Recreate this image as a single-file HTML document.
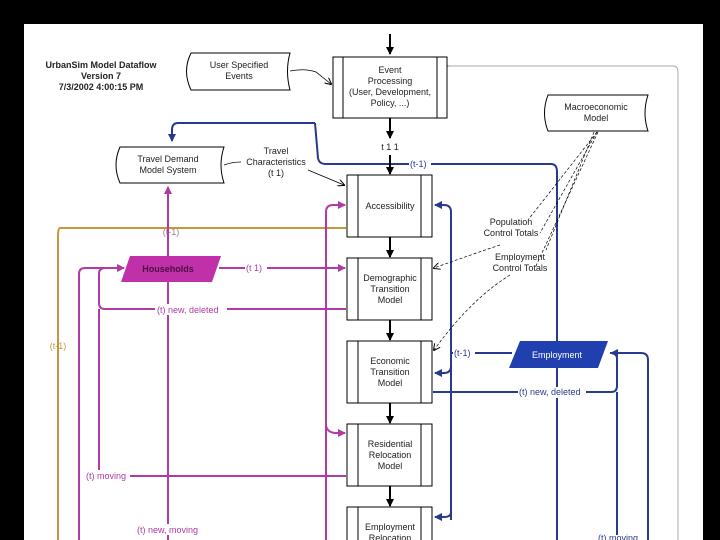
<!DOCTYPE html>
<html><head><meta charset="utf-8"><style>
html,body{margin:0;padding:0;background:#000;}
svg{display:block;}
text{font-family:"Liberation Sans",sans-serif;font-size:9px;}
</style></head><body>
<svg width="720" height="540" viewBox="0 0 720 540" xmlns="http://www.w3.org/2000/svg">
<defs>
<marker id="ak" markerWidth="8" markerHeight="8" refX="7" refY="4" orient="auto" markerUnits="userSpaceOnUse"><path d="M0,0L8,4L0,8z" fill="#000"/></marker>
<marker id="ap" markerWidth="8" markerHeight="8" refX="7" refY="4" orient="auto" markerUnits="userSpaceOnUse"><path d="M0,0L8,4L0,8z" fill="#b03aa6"/></marker>
<marker id="ab" markerWidth="8" markerHeight="8" refX="7" refY="4" orient="auto" markerUnits="userSpaceOnUse"><path d="M0,0L8,4L0,8z" fill="#283a8c"/></marker>
<marker id="ag" markerWidth="8" markerHeight="8" refX="7" refY="4" orient="auto" markerUnits="userSpaceOnUse"><path d="M0,1L8,4L0,7z" fill="#999"/></marker>
<marker id="ad" markerWidth="7" markerHeight="7" refX="6" refY="3.5" orient="auto" markerUnits="userSpaceOnUse"><path d="M0,0L7,3.5L0,7" fill="none" stroke="#000"/></marker>
</defs>
<rect x="24" y="24" width="679" height="516" fill="#fff"/>

<!-- title -->
<g font-weight="bold" text-anchor="middle" fill="#222">
<text x="101" y="68">UrbanSim Model Dataflow</text>
<text x="101" y="79">Version 7</text>
<text x="101" y="90">7/3/2002 4:00:15 PM</text>
</g>

<!-- gray loop -->
<path d="M449,66 L673,66 Q678,66 678,72 L678,540" fill="none" stroke="#aaa" stroke-width="1" marker-start="url(#ag)"/>

<!-- orange -->
<path d="M346,228 L60,228 Q58,228 58,236 L58,540" fill="none" stroke="#c8963c" stroke-width="2"/>
<text x="171" y="235" text-anchor="middle" fill="#a07a90" font-size="9">(t-1)</text>
<text x="58" y="349" text-anchor="middle" fill="#c8963c" font-size="9">(t-1)</text>

<!-- purple -->
<g fill="none" stroke="#b03aa6" stroke-width="2">
<path d="M168,540 L168,187" marker-end="url(#ap)"/>
<path d="M219,268 L345,268" marker-end="url(#ap)"/>
<path d="M346,309 L105,309 Q99,309 99,303 L99,274 Q99,268 105,268 L124,268" marker-end="url(#ap)"/>
<path d="M99,309 L99,470 Q99,476 105,476 L346,476"/>
<path d="M79,540 L79,274 Q79,268 85,268 L120,268"/>
<path d="M326,540 L326,212 Q326,205 333,205 L345,205" marker-end="url(#ap)"/>
<path d="M326,426 Q328,433 336,433 L345,433" marker-end="url(#ap)"/>
</g>
<polygon points="130,256 221,256 212,282 121,282" fill="#c030a8"/>
<text x="168" y="272" text-anchor="middle" font-weight="bold" fill="#4a1040">Households</text>
<g fill="#b03aa6" font-size="9">
<rect x="245" y="262" width="22" height="11" fill="#fff"/><text x="246" y="271">(t 1)</text>
<rect x="155" y="304" width="72" height="11" fill="#fff"/><text x="157" y="313">(t) new, deleted</text>
<rect x="85" y="470" width="45" height="11" fill="#fff"/><text x="86" y="479">(t) moving</text>
<rect x="136" y="524" width="68" height="11" fill="#fff"/><text x="137" y="533">(t) new, moving</text>
</g>

<!-- blue -->
<g fill="none" stroke="#283a8c" stroke-width="2">
<path d="M315,123 L178,123 Q172,123 172,130 L172,141" marker-end="url(#ab)"/>
<path d="M315,123 L318,158 Q319,164 326,164 L551,164 Q557,164 557,172 L557,540"/>
<path d="M451,520 L451,212 Q451,205 444,205 L435,205" marker-end="url(#ab)"/>
<path d="M451,366 Q451,373 444,373 L435,373" marker-end="url(#ab)"/>
<path d="M451,512 Q451,517 444,517 L435,517" marker-end="url(#ab)"/>
<path d="M451,353 L512,353"/>
<path d="M433,392 L611,392 Q617,392 617,386 L617,359 Q617,353 611,353 L610,353" />
<path d="M617,392 L617,535"/>
<path d="M648,540 L648,360 Q648,353 641,353 L611,353" marker-end="url(#ab)"/>
</g>
<polygon points="520,341 608,341 598,368 509,368" fill="#2040b0"/>
<text x="557" y="358" text-anchor="middle" fill="#fff" font-size="9">Employment</text>
<g fill="#283a8c" font-size="9">
<rect x="409" y="159" width="22" height="11" fill="#fff"/><text x="410" y="167">(t-1)</text>
<rect x="453" y="348" width="22" height="11" fill="#fff"/><text x="454" y="356">(t-1)</text>
<rect x="518" y="387" width="68" height="11" fill="#fff"/><text x="519" y="395">(t) new, deleted</text>
<text x="598" y="541">(t) moving</text>
</g>

<!-- black main arrows -->
<g stroke="#000" stroke-width="2" fill="none">
<path d="M390,34 L390,54" marker-end="url(#ak)"/>
<path d="M390,118 L390,138" marker-end="url(#ak)"/>
<path d="M390,155 L390,174" marker-end="url(#ak)"/>
<path d="M390,237 L390,257" marker-end="url(#ak)"/>
<path d="M390,320 L390,340" marker-end="url(#ak)"/>
<path d="M390,403 L390,423" marker-end="url(#ak)"/>
<path d="M390,486 L390,506" marker-end="url(#ak)"/>
</g>
<text x="390" y="150" text-anchor="middle" fill="#222">t 1   1</text>

<!-- boxes -->
<g fill="#fff" stroke="#000" stroke-width="1">
<rect x="333" y="57" width="114" height="61"/><line x1="343" y1="57" x2="343" y2="118"/><line x1="437" y1="57" x2="437" y2="118"/>
<rect x="347" y="175" width="85" height="62"/><line x1="358" y1="175" x2="358" y2="237"/><line x1="421" y1="175" x2="421" y2="237"/>
<rect x="347" y="258" width="85" height="62"/><line x1="358" y1="258" x2="358" y2="320"/><line x1="421" y1="258" x2="421" y2="320"/>
<rect x="347" y="341" width="85" height="62"/><line x1="358" y1="341" x2="358" y2="403"/><line x1="421" y1="341" x2="421" y2="403"/>
<rect x="347" y="424" width="85" height="62"/><line x1="358" y1="424" x2="358" y2="486"/><line x1="421" y1="424" x2="421" y2="486"/>
<rect x="347" y="507" width="85" height="40"/><line x1="358" y1="507" x2="358" y2="547"/><line x1="421" y1="507" x2="421" y2="547"/>
</g>
<g text-anchor="middle" fill="#222" font-size="9">
<text x="390" y="73">Event</text><text x="390" y="84">Processing</text><text x="390" y="95">(User, Development,</text><text x="390" y="106">Policy, ...)</text>
<text x="390" y="209">Accessibility</text>
<text x="390" y="281">Demographic</text><text x="390" y="292">Transition</text><text x="390" y="303">Model</text>
<text x="390" y="364">Economic</text><text x="390" y="375">Transition</text><text x="390" y="386">Model</text>
<text x="390" y="447">Residential</text><text x="390" y="458">Relocation</text><text x="390" y="469">Model</text>
<text x="390" y="530">Employment</text><text x="390" y="541">Relocation</text>
</g>

<!-- stored data shapes -->
<g fill="#fff" stroke="#000" stroke-width="1">
<path d="M191,53 L290,53 Q285,71 290,90 L191,90 Q182,71 191,53Z"/>
<path d="M120,147 L224,147 Q218,165 224,183 L120,183 Q112,165 120,147Z"/>
<path d="M548,95 L648,95 Q642,113 648,131 L548,131 Q541,113 548,95Z"/>
</g>
<g text-anchor="middle" fill="#222" font-size="9">
<text x="239" y="68">User Specified</text><text x="239" y="79">Events</text>
<text x="168" y="162">Travel Demand</text><text x="168" y="173">Model System</text>
<text x="596" y="110">Macroeconomic</text><text x="596" y="121">Model</text>
<text x="276" y="154">Travel</text><text x="276" y="165">Characteristics</text><text x="276" y="176">(t 1)</text>
<text x="511" y="225">Population</text><text x="511" y="236">Control Totals</text>
<text x="520" y="260">Employment</text><text x="520" y="271">Control Totals</text>
</g>

<!-- thin black connectors -->
<g fill="none" stroke="#000" stroke-width="0.8">
<path d="M290,71 Q305,68 316,72 L331,84" marker-end="url(#ad)"/>
<path d="M224,165 Q232,162 241,162"/>
<path d="M308,170 L344,185" marker-end="url(#ad)"/>
</g>
<g fill="none" stroke="#000" stroke-width="0.7" stroke-dasharray="3,2">
<path d="M597,132 L528,220"/>
<path d="M597,132 L540,233"/>
<path d="M594,132 L546,250"/>
<path d="M598,132 L535,268"/>
<path d="M500,245 Q470,255 434,268" marker-end="url(#ad)"/>
<path d="M510,275 Q470,300 434,350" marker-end="url(#ad)"/>
</g>
</svg>
</body></html>
